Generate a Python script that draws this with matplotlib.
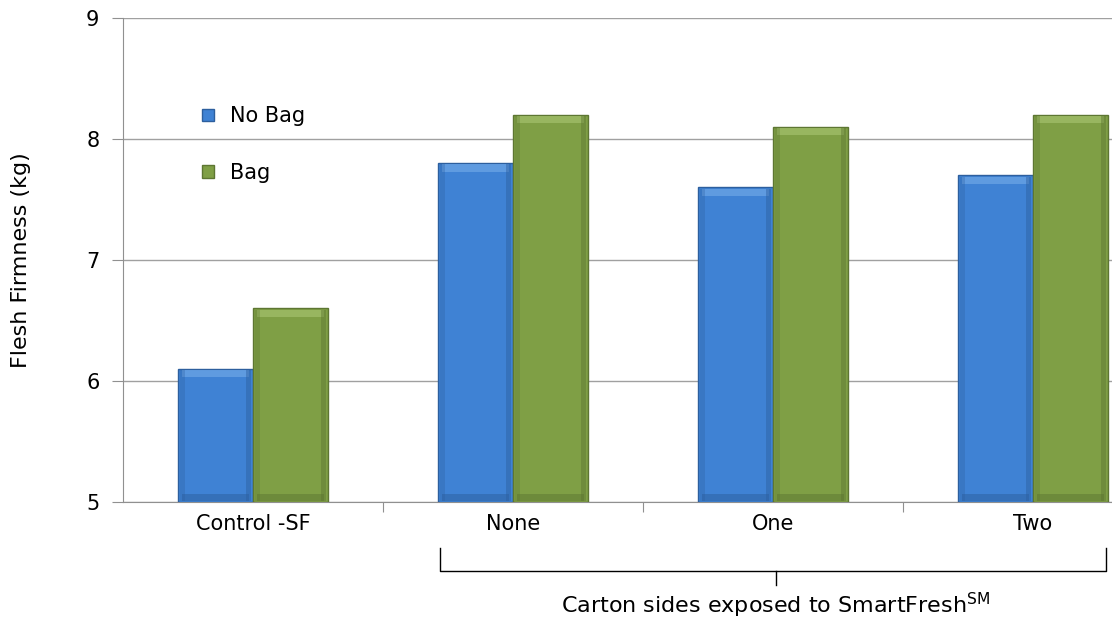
import numpy as np
import matplotlib.pyplot as plt

plt.rcParams['font.family'] = ['DejaVu Sans']

groups = ['Control -SF', 'None', 'One', 'Two']
no_bag = [6.1, 7.8, 7.6, 7.7]
bag = [6.6, 8.2, 8.1, 8.2]
series_names = ['No Bag', 'Bag']
y_ticks = [5, 6, 7, 8, 9]

blue = '#3f82d4'
blue_dark = '#2d5f9e'
blue_light = '#6ea6e6'
green = '#7f9f45'
green_dark = '#5d7632'
green_light = '#a3c16c'

fig = plt.figure(figsize=(11.12, 6.26), dpi=100)
# axes runs past the right edge of the figure, like the original
ax = fig.add_axes([123 / 1112, 1 - 502 / 626, 1040 / 1112, 484 / 626])

x = np.arange(len(groups))
w = 0.288
cap = 0.06

for vals, off, c, cd, cl, name in [(no_bag, -w / 2, blue, blue_dark, blue_light, series_names[0]),
                                   (bag, w / 2, green, green_dark, green_light, series_names[1])]:
    vals = np.array(vals)
    ax.bar(x + off, vals - 5, w, bottom=5, color=c, edgecolor=cd, linewidth=1.0, label=name, zorder=3)
    # soft bevel along the top and darker shade at the foot of each bar
    ax.bar(x + off, cap, w * 0.9, bottom=vals - cap - 0.01, color=cl, linewidth=0, alpha=0.7, zorder=4)
    ax.bar(x + off, cap, w * 0.9, bottom=5.01, color=cd, linewidth=0, alpha=0.5, zorder=4)
    ax.bar(x + off + w * 0.44, vals - 5 - 0.02, w * 0.06, bottom=5.01, color=cd, linewidth=0, alpha=0.45, zorder=4)
    ax.bar(x + off - w * 0.44, vals - 5 - 0.02, w * 0.06, bottom=5.01, color=cd, linewidth=0, alpha=0.3, zorder=4)

ax.set_xlim(-0.5, 3.5)
ax.set_ylim(5, 9)
ax.set_yticks(y_ticks)
ax.yaxis.grid(True, color='#a0a0a0', linewidth=1, zorder=0)
ax.set_axisbelow(True)
for s in ['top', 'right']:
    ax.spines[s].set_visible(False)
for s in ['left', 'bottom']:
    ax.spines[s].set_color('#909090')
ax.tick_params(axis='y', colors='#909090', length=8, labelcolor='black', labelsize=15, pad=9)
ax.set_xticks(x[:-1] + 0.5)
ax.set_xticks(x, minor=True)
ax.set_xticklabels([])
ax.set_xticklabels(groups, minor=True)
ax.tick_params(axis='x', which='major', colors='#909090', length=7, direction='out')
ax.tick_params(axis='x', which='minor', length=0, labelsize=15, pad=9)
ax.set_ylabel('Flesh Firmness (kg)', fontsize=16)
ax.yaxis.set_label_coords(-0.088, 0.5)

leg = ax.legend(loc='upper left', bbox_to_anchor=(0.068, 0.835), frameon=False, fontsize=15,
                handlelength=0.55, handleheight=0.55, handletextpad=0.8, labelspacing=1.75,
                borderaxespad=0)

# bracket under the SmartFresh groups
trans = ax.get_xaxis_transform()
ax.plot([0.72, 0.72, 3.28, 3.28], [-0.095, -0.1426, -0.1426, -0.095], color='black', lw=1,
        transform=trans, clip_on=False)
ax.plot([2.01, 2.01], [-0.1426, -0.171], color='black', lw=1, transform=trans, clip_on=False)
ax.text(2.01, -0.213, r'Carton sides exposed to SmartFresh$^{\rm SM}$', transform=trans,
        ha='center', va='center', fontsize=16)

fig.savefig('out.png', dpi=100)
